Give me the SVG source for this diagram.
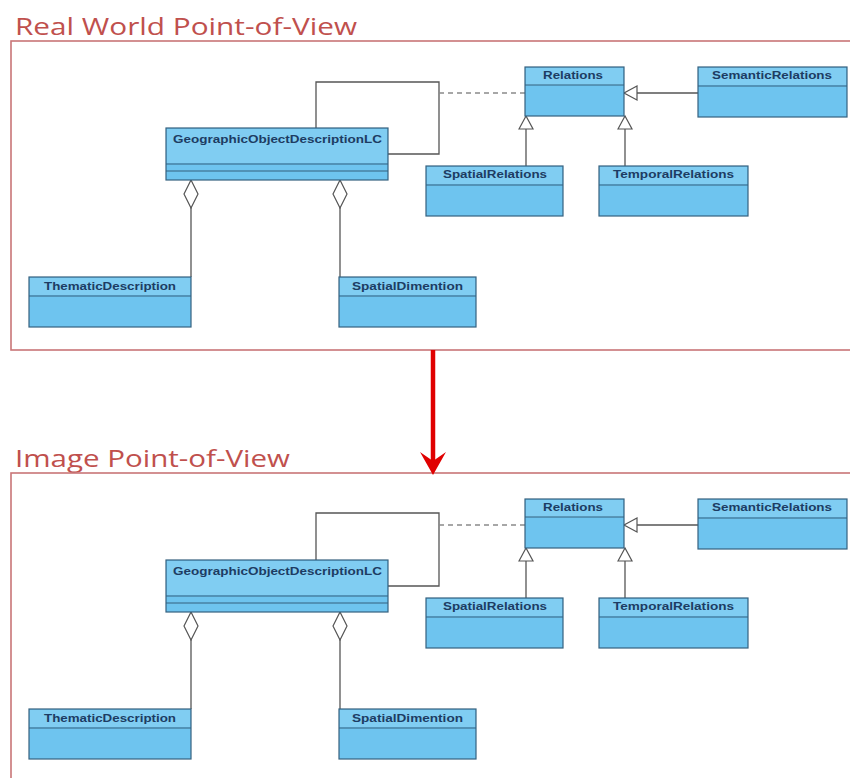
<svg xmlns="http://www.w3.org/2000/svg" width="850" height="778" viewBox="0 0 850 778">
<style>
  .frame { fill: none; stroke: #c97577; stroke-width: 1.6; }
  .title { font-family: "Open Sans", "Liberation Sans", sans-serif; font-size: 24px; fill: #c0504d; }
  .box { fill: #6ec4ef; stroke: #35617f; stroke-width: 1.2; }
  .hdr { fill: #80cdf2; stroke: none; }
  .div { stroke: #35617f; stroke-width: 1; }
  .name { font-family: "Liberation Sans", Arial, sans-serif; font-weight: bold; font-size: 10px; fill: #1d3c63; }
  .conn { fill: none; stroke: #555; stroke-width: 1.3; }
  .dash { fill: none; stroke: #8a8a8a; stroke-width: 1.3; stroke-dasharray: 5 4; }
  .red { stroke: #e00000; stroke-width: 4.5; fill: none; }
</style>
<defs>
  <marker id="gen" markerUnits="userSpaceOnUse" markerWidth="16" markerHeight="16" refX="13" refY="7" orient="auto" viewBox="-1 -1 16 16">
    <path d="M0,0 L13,7 L0,14 z" fill="#fff" stroke="#555" stroke-width="1.2"/>
  </marker>
  <marker id="agg" markerUnits="userSpaceOnUse" markerWidth="30" markerHeight="18" refX="0" refY="7" orient="auto" viewBox="-1 -1 30 16">
    <path d="M0,7 L14,0 L28,7 L14,14 z" fill="#fff" stroke="#555" stroke-width="1.2"/>
  </marker>
</defs>
<rect width="850" height="778" fill="#fff"/>

<!-- Panel 1 -->
<g id="panel-real">
  <text class="title" x="15" y="35" textLength="342" lengthAdjust="spacingAndGlyphs">Real World Point-of-View</text>
  <rect class="frame" x="11" y="41" width="850" height="309"/>
</g>
<!-- Panel 2 -->
<g id="panel-image">
  <text class="title" x="15" y="467" textLength="275" lengthAdjust="spacingAndGlyphs">Image Point-of-View</text>
  <rect class="frame" x="11" y="473" width="850" height="320"/>
</g>

<!-- Connectors -->
<g id="connectors">
  <path class="red" d="M433,350 L433,462"/>
  <polygon points="420,452 433,475 446,452 433,461" fill="#e00000"/>

  <!-- top panel -->
  <path class="conn" d="M316,128 L316,82 L439,82 L439,154 L388,154"/>
  <path class="dash" d="M439,93 L525,93"/>
  <path class="conn" d="M698,93 L624,93" marker-end="url(#gen)"/>
  <path class="conn" d="M526,166 L526,116" marker-end="url(#gen)"/>
  <path class="conn" d="M625,166 L625,116" marker-end="url(#gen)"/>
  <path class="conn" d="M191,180 L191,277" marker-start="url(#agg)"/>
  <path class="conn" d="M340,180 L340,277" marker-start="url(#agg)"/>

  <!-- bottom panel -->
  <g transform="translate(0,432)">
    <path class="conn" d="M316,128 L316,81 L439,81 L439,154 L388,154"/>
    <path class="dash" d="M439,93 L525,93"/>
    <path class="conn" d="M698,93 L624,93" marker-end="url(#gen)"/>
    <path class="conn" d="M526,166 L526,116" marker-end="url(#gen)"/>
    <path class="conn" d="M625,166 L625,116" marker-end="url(#gen)"/>
    <path class="conn" d="M191,180 L191,277" marker-start="url(#agg)"/>
    <path class="conn" d="M340,180 L340,277" marker-start="url(#agg)"/>
  </g>
</g>

<!-- Nodes: top panel -->
<g id="geo-1">
  <rect class="box" x="166" y="128" width="222" height="52"/>
  <rect class="hdr" x="167" y="129" width="220" height="34"/>
  <line class="div" x1="166" y1="164" x2="388" y2="164"/>
  <line class="div" x1="166" y1="171" x2="388" y2="171"/>
  <text class="name" x="173" y="143" textLength="209" lengthAdjust="spacingAndGlyphs">GeographicObjectDescriptionLC</text>
</g>
<g id="relations-1">
  <rect class="box" x="525" y="67" width="99" height="49"/>
  <rect class="hdr" x="526" y="68" width="97" height="17"/>
  <line class="div" x1="525" y1="85" x2="624" y2="85"/>
  <text class="name" x="543" y="79" textLength="60" lengthAdjust="spacingAndGlyphs">Relations</text>
</g>
<g id="semantic-1">
  <rect class="box" x="698" y="67" width="149" height="50"/>
  <rect class="hdr" x="699" y="68" width="147" height="17"/>
  <line class="div" x1="698" y1="86" x2="847" y2="86"/>
  <text class="name" x="712" y="79" textLength="120" lengthAdjust="spacingAndGlyphs">SemanticRelations</text>
</g>
<g id="spatialrel-1">
  <rect class="box" x="426" y="166" width="137" height="50"/>
  <rect class="hdr" x="427" y="167" width="135" height="17"/>
  <line class="div" x1="426" y1="185" x2="563" y2="185"/>
  <text class="name" x="443" y="178" textLength="104" lengthAdjust="spacingAndGlyphs">SpatialRelations</text>
</g>
<g id="temporal-1">
  <rect class="box" x="599" y="166" width="149" height="50"/>
  <rect class="hdr" x="600" y="167" width="147" height="17"/>
  <line class="div" x1="599" y1="185" x2="748" y2="185"/>
  <text class="name" x="613" y="178" textLength="121" lengthAdjust="spacingAndGlyphs">TemporalRelations</text>
</g>
<g id="thematic-1">
  <rect class="box" x="29" y="277" width="162" height="50"/>
  <rect class="hdr" x="30" y="278" width="160" height="17"/>
  <line class="div" x1="29" y1="296" x2="191" y2="296"/>
  <text class="name" x="44" y="290" textLength="132" lengthAdjust="spacingAndGlyphs">ThematicDescription</text>
</g>
<g id="spatialdim-1">
  <rect class="box" x="339" y="277" width="137" height="50"/>
  <rect class="hdr" x="340" y="278" width="135" height="17"/>
  <line class="div" x1="339" y1="296" x2="476" y2="296"/>
  <text class="name" x="352" y="290" textLength="111" lengthAdjust="spacingAndGlyphs">SpatialDimention</text>
</g>

<!-- Nodes: bottom panel -->
<g id="geo-2" transform="translate(0,432)">
  <rect class="box" x="166" y="128" width="222" height="52"/>
  <rect class="hdr" x="167" y="129" width="220" height="34"/>
  <line class="div" x1="166" y1="164" x2="388" y2="164"/>
  <line class="div" x1="166" y1="171" x2="388" y2="171"/>
  <text class="name" x="173" y="143" textLength="209" lengthAdjust="spacingAndGlyphs">GeographicObjectDescriptionLC</text>
</g>
<g id="relations-2" transform="translate(0,432)">
  <rect class="box" x="525" y="67" width="99" height="49"/>
  <rect class="hdr" x="526" y="68" width="97" height="17"/>
  <line class="div" x1="525" y1="85" x2="624" y2="85"/>
  <text class="name" x="543" y="79" textLength="60" lengthAdjust="spacingAndGlyphs">Relations</text>
</g>
<g id="semantic-2" transform="translate(0,432)">
  <rect class="box" x="698" y="67" width="149" height="50"/>
  <rect class="hdr" x="699" y="68" width="147" height="17"/>
  <line class="div" x1="698" y1="86" x2="847" y2="86"/>
  <text class="name" x="712" y="79" textLength="120" lengthAdjust="spacingAndGlyphs">SemanticRelations</text>
</g>
<g id="spatialrel-2" transform="translate(0,432)">
  <rect class="box" x="426" y="166" width="137" height="50"/>
  <rect class="hdr" x="427" y="167" width="135" height="17"/>
  <line class="div" x1="426" y1="185" x2="563" y2="185"/>
  <text class="name" x="443" y="178" textLength="104" lengthAdjust="spacingAndGlyphs">SpatialRelations</text>
</g>
<g id="temporal-2" transform="translate(0,432)">
  <rect class="box" x="599" y="166" width="149" height="50"/>
  <rect class="hdr" x="600" y="167" width="147" height="17"/>
  <line class="div" x1="599" y1="185" x2="748" y2="185"/>
  <text class="name" x="613" y="178" textLength="121" lengthAdjust="spacingAndGlyphs">TemporalRelations</text>
</g>
<g id="thematic-2" transform="translate(0,432)">
  <rect class="box" x="29" y="277" width="162" height="50"/>
  <rect class="hdr" x="30" y="278" width="160" height="17"/>
  <line class="div" x1="29" y1="296" x2="191" y2="296"/>
  <text class="name" x="44" y="290" textLength="132" lengthAdjust="spacingAndGlyphs">ThematicDescription</text>
</g>
<g id="spatialdim-2" transform="translate(0,432)">
  <rect class="box" x="339" y="277" width="137" height="50"/>
  <rect class="hdr" x="340" y="278" width="135" height="17"/>
  <line class="div" x1="339" y1="296" x2="476" y2="296"/>
  <text class="name" x="352" y="290" textLength="111" lengthAdjust="spacingAndGlyphs">SpatialDimention</text>
</g>
</svg>
